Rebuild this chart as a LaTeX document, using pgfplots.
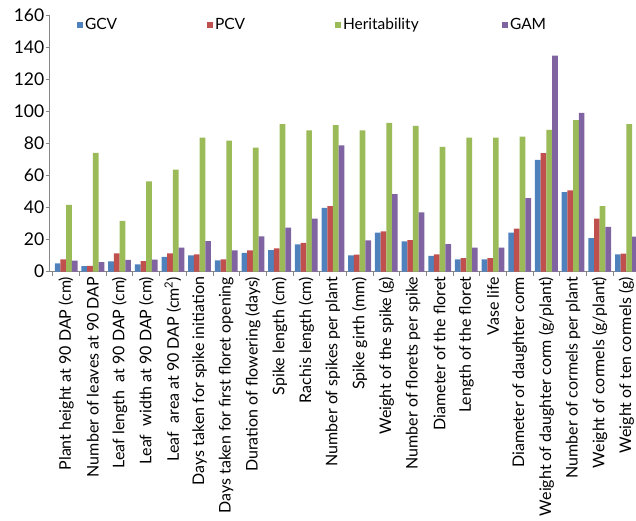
\documentclass[border=0pt]{standalone}
\usepackage{pgfplots}
\pgfplotsset{compat=1.18}
\usepackage{fontspec}
\setmainfont{Lato}
\definecolor{cgcv}{HTML}{4F81BD}
\definecolor{cpcv}{HTML}{C0504D}
\definecolor{cher}{HTML}{9BBB59}
\definecolor{cgam}{HTML}{8064A2}
\definecolor{axgray}{HTML}{868686}
\begin{document}
\begin{tikzpicture}
\useasboundingbox (-49.5pt,-248.3pt) rectangle (586.5pt,271.7pt);
\begin{axis}[
  at={(0,0)}, anchor=south west,
  scale only axis, width=586.5pt, height=256.8pt,
  ybar=0pt, bar width=5.7pt,
  xmin=-0.626, xmax=21.36, ymin=0, ymax=160,
  ytick={0,20,...,160},
  yticklabels={0,20,40,60,80,100,120,140,160},
  xtick={0,...,21},
  minor xtick={-0.5,0.5,...,21.5},
  xticklabels={{Plant height at 90 DAP (cm)},{Number of leaves at 90 DAP},{Leaf length\ \ at 90 DAP (cm)},{Leaf\ \ width at 90 DAP (cm)},{Leaf\ \ area at 90 DAP (cm\textsuperscript{2})},{Days taken for spike initiation},{Days taken for first floret opening},{Duration of flowering (days)},{Spike length (cm)},{Rachis length (cm)},{Number of spikes per plant},{Spike girth (mm)},{Weight of the spike (g)},{Number of florets per spike},{Diameter of the floret},{Length of the floret},{Vase life},{Diameter of daughter corm},{Weight of daughter corm (g/plant)},{Number of cormels per plant},{Weight of cormels (g/plant)},{Weight of ten cormels (g)}},
  xticklabel style={rotate=90, anchor=east, font=\fontsize{16}{16}\selectfont, inner sep=2pt},
  yticklabel style={font=\fontsize{17.5}{17.5}\selectfont, inner sep=2pt},
  axis x line*=bottom, axis y line*=left,
  axis line style={axgray, line width=0.8pt},
  major x tick style={draw=none},
  minor x tick style={axgray, line width=0.8pt},
  major y tick style={axgray, line width=0.8pt},
  tick align=outside, major tick length=3pt, minor tick length=4pt,
  legend columns=4,
  legend style={at={(0.0469,0.961)}, anchor=west, draw=none, fill=none, inner sep=0pt, outer sep=0pt,
    font=\fontsize{15.5}{15.5}\selectfont, nodes={inner sep=0pt},
    /tikz/every odd column/.append style={column sep=2pt}},
  legend image code/.code={\fill[#1,draw=none] (0pt,-3pt) rectangle (6pt,3pt);},
]
\addplot[fill=cgcv, draw=none] coordinates {(0,5.2) (1,3.5) (2,6.4) (3,4.6) (4,9.3) (5,10.2) (6,7.1) (7,11.8) (8,13.5) (9,17) (10,39.7) (11,10.2) (12,24.3) (13,18.9) (14,9.8) (15,7.7) (16,7.7) (17,24.3) (18,69.6) (19,49.6) (20,21) (21,10.8)};
\addplot[fill=cpcv, draw=none] coordinates {(0,7.7) (1,3.7) (2,11.4) (3,6.6) (4,11.4) (5,10.8) (6,7.7) (7,13.3) (8,14.5) (9,18) (10,40.9) (11,10.6) (12,25.1) (13,19.7) (14,10.8) (15,8.5) (16,8.5) (17,26.8) (18,73.9) (19,50.7) (20,33) (21,11.2)};
\addplot[fill=cher, draw=none] coordinates {(0,41.7) (1,74) (2,31.6) (3,56.3) (4,63.6) (5,83.5) (6,81.6) (7,77.3) (8,92) (9,88) (10,91.4) (11,88) (12,92.8) (13,90.8) (14,77.7) (15,83.5) (16,83.5) (17,84.1) (18,88.3) (19,94.5) (20,40.9) (21,92)};
\addplot[fill=cgam, draw=none] coordinates {(0,6.9) (1,6) (2,7.3) (3,7.5) (4,15) (5,19.1) (6,13.3) (7,22) (8,27.4) (9,33) (10,78.7) (11,19.5) (12,48.4) (13,37) (14,17.2) (15,15) (16,15) (17,45.9) (18,134.6) (19,99) (20,28) (21,21.8)};
\addlegendentry{\makebox[122pt][l]{GCV}}
\addlegendentry{\makebox[120pt][l]{PCV}}
\addlegendentry{\makebox[159pt][l]{Heritability}}
\addlegendentry{GAM}
\end{axis}
\end{tikzpicture}
\end{document}
